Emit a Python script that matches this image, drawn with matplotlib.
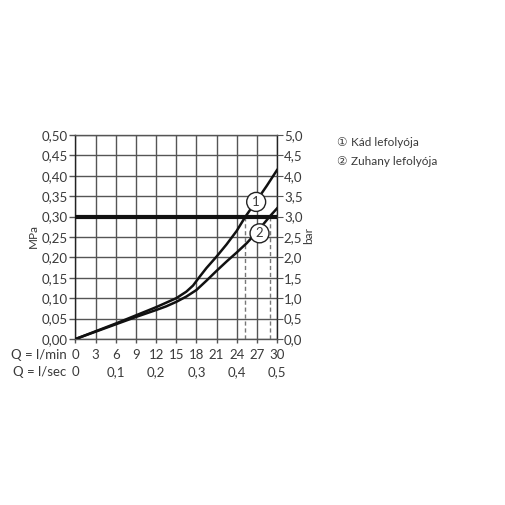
import matplotlib
matplotlib.use("Agg")
import matplotlib.pyplot as plt
from matplotlib.patches import Ellipse
import matplotlib.transforms as mtransforms

# flow in l/min, pressure in MPa
Q1 = [0, 3, 6, 9, 12, 15, 16.5, 17.5, 18.5, 19.5, 21, 22.5, 24, 25.3, 27, 28.5, 30]
P1 = [0, 0.019, 0.038, 0.058, 0.078, 0.100, 0.116, 0.131, 0.153, 0.174, 0.202,
      0.232, 0.265, 0.300, 0.340, 0.376, 0.414]
Q2 = [0, 3, 6, 9, 12, 13.5, 15, 16.5, 18, 19.5, 21, 22.5, 24, 25.5, 27, 28.9, 30]
P2 = [0, 0.018, 0.036, 0.054, 0.071, 0.080, 0.091, 0.104, 0.120, 0.143, 0.167,
      0.190, 0.212, 0.235, 0.262, 0.300, 0.320]

MPA_TICKS = [0.0, 0.05, 0.10, 0.15, 0.20, 0.25, 0.30, 0.35, 0.40, 0.45, 0.50]
LMIN_TICKS = [0, 3, 6, 9, 12, 15, 18, 21, 24, 27, 30]
LSEC_POS = [0, 6, 12, 18, 24, 30]
LSEC_LABELS = ["0", "0,1", "0,2", "0,3", "0,4", "0,5"]
CROSS_Q = [25.3, 28.9]
LIMIT_P = 0.30
LEGEND = ["Kád lefolyója", "Zuhany lefolyója"]
MARKS = [("1", 26.9, 0.336), ("2", 27.4, 0.259)]

TXT = "#3a3a3a"
GRID = "#555555"

plt.rcParams["font.family"] = ["Lato", "DejaVu Sans"]

fig = plt.figure(figsize=(5.05, 5.05), dpi=100)
ax = fig.add_axes([0.1495, 0.3287, 0.3990, 0.4040])
ax.set_xlim(0, 30)
ax.set_ylim(0, 0.5)

ax.set_xticks(LMIN_TICKS)
ax.set_xticklabels([str(v) for v in LMIN_TICKS])
ax.set_yticks(MPA_TICKS)
ax.set_yticklabels([f"{v:.2f}".replace(".", ",") for v in MPA_TICKS])
ax.grid(True, color=GRID, linewidth=1.0)
ax.tick_params(axis="both", colors=GRID, labelcolor=TXT, labelsize=9.5, width=1.0)
ax.tick_params(axis="y", length=4, pad=1.5)
ax.tick_params(axis="x", length=3, pad=4)
for s in ax.spines.values():
    s.set_color(GRID)
    s.set_linewidth(1.0)
ax.spines["left"].set_color("#222222")
ax.spines["right"].set_color("#222222")

ax2 = ax.twinx()
ax2.set_ylim(0, 5)
ax2.set_yticks([v * 10 for v in MPA_TICKS])
ax2.set_yticklabels([f"{v * 10:.1f}".replace(".", ",") for v in MPA_TICKS])
ax2.tick_params(axis="y", colors=GRID, labelcolor=TXT, labelsize=9.5, length=4, pad=1)
for s in ax2.spines.values():
    s.set_visible(False)

# axis unit labels
fig.text(33.5 / 505, 1 - 236 / 505, "MPa", rotation=90, ha="center", va="center",
         fontsize=8.5, color=TXT)
fig.text(309 / 505, 1 - 236 / 505, "bar", rotation=90, ha="center", va="center",
         fontsize=8.5, color=TXT)

ax.axhline(LIMIT_P, color="#111111", linewidth=3.0, zorder=3)
ax.plot(Q1, P1, color="#111111", linewidth=1.8, zorder=4)
ax.plot(Q2, P2, color="#111111", linewidth=1.8, zorder=4)
for q in CROSS_Q:
    ax.plot([q, q], [0, LIMIT_P], color="#777777", linewidth=1.0,
            linestyle=(0, (3, 2)), zorder=2)

# circled curve markers (circle of ~9.5 px radius)
rx = 9.5 / 202 * 30
ry = 9.5 / 204 * 0.5
for label, q, p in MARKS:
    ax.add_patch(Ellipse((q, p), 2 * rx, 2 * ry, facecolor="white",
                         edgecolor="#222222", linewidth=1.0, zorder=5))
    ax.text(q, p, label, ha="center", va="center", fontsize=9.5, color=TXT, zorder=6)

# bottom axis captions
trans = mtransforms.blended_transform_factory(ax.transData, fig.transFigure)
fig.text(67 / 505, 1 - 355 / 505, "Q = l/min", ha="right", va="center",
         fontsize=9.5, color=TXT)
fig.text(66 / 505, 1 - 372 / 505, "Q = l/sec", ha="right", va="center",
         fontsize=9.5, color=TXT)
for pos, lab in zip(LSEC_POS, LSEC_LABELS):
    ax.text(pos, 1 - 372 / 505, lab, transform=trans, ha="center", va="center",
            fontsize=9.5, color=TXT)

# legend
for i, (sym, name) in enumerate(zip(["\u2460", "\u2461"], LEGEND)):
    y = 1 - (143 + 18 * i) / 505
    fig.text(336 / 505, y, sym, ha="left", va="center", fontsize=8.5, color=TXT,
             family=["DejaVu Sans"])
    fig.text(351 / 505, y, name, ha="left", va="center", fontsize=8.5, color=TXT)

fig.savefig("out.png", dpi=100)
